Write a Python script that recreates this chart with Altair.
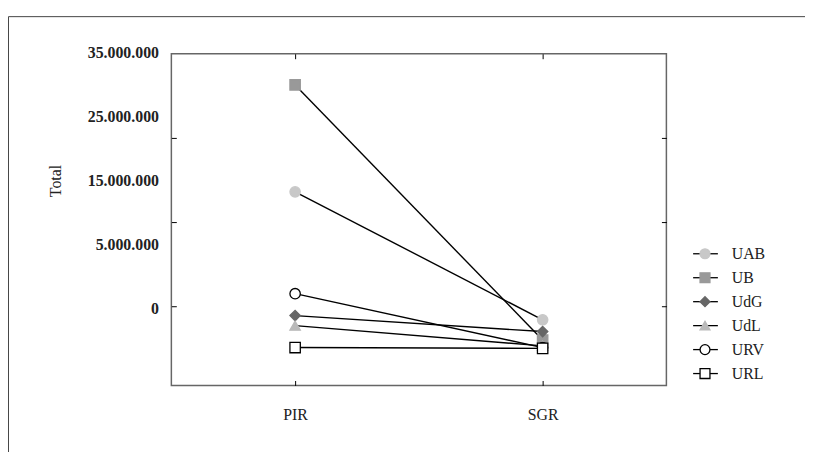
import altair as alt
import pandas as pd

# ---- data ----
unis = ["UAB", "UB", "UdG", "UdL", "URV", "URL"]
groups = ["PIR", "SGR"]
pir_values = [18.6e6, 31.3e6, 3.9e6, 2.7e6, 6.5e6, 0.1e6]
sgr_values = [3.4e6, 1.0e6, 2.0e6, 0.3e6, 0.1e6, 0.0]
y_tick_labels = ["35.000.000", "25.000.000", "15.000.000", "5.000.000", "0"]
y_tick_values = [5e6, 15e6, 25e6]
y_domain = [-4.4e6, 35e6]

# ---- styles ----
shapes = ["circle", "square", "diamond", "triangle-up", "circle", "square"]
fills = ["#c8c8c8", "#999999", "#666666", "#b9b9b9", "#ffffff", "#ffffff"]
strokes = ["#c8c8c8", "#999999", "#666666", "#b9b9b9", "#000000", "#000000"]
FONT = "Liberation Serif"

rows = []
for g, vals in zip(groups, [pir_values, sgr_values]):
    for u, v in zip(unis, vals):
        rows.append({"grupo": g, "uni": u, "valor": v})
df = pd.DataFrame(rows)
leg_df = pd.DataFrame({"uni": unis})
lab_df = pd.DataFrame({"lab": y_tick_labels})

xscale = alt.Scale(domain=groups, type="point", padding=0.5)
yscale = alt.Scale(domain=y_domain, nice=False, zero=False)
shape_scale = alt.Scale(domain=unis, range=shapes)
fill_scale = alt.Scale(domain=unis, range=fills)
stroke_scale = alt.Scale(domain=unis, range=strokes)

base = alt.Chart(df)

lines = base.mark_line(color="black", strokeWidth=1.4).encode(
    x=alt.X("grupo:N", scale=xscale, sort=groups,
            axis=alt.Axis(orient="bottom", title=None, offset=-5, tickSize=5,
                          domain=False, labelAngle=0, labelPadding=21,
                          labelFont=FONT, labelFontSize=16, labelColor="#222",
                          tickColor="black")),
    y=alt.Y("valor:Q", scale=yscale,
            axis=alt.Axis(orient="left", title=None, values=y_tick_values,
                          labels=False, offset=-5, tickSize=5, domain=False,
                          tickColor="black")),
    detail="uni:N",
)

points = base.mark_point(filled=True, size=110, opacity=1, strokeWidth=1.3).encode(
    x=alt.X("grupo:N", scale=xscale, sort=groups, axis=None),
    y=alt.Y("valor:Q", scale=yscale, axis=None),
    shape=alt.Shape("uni:N", scale=shape_scale, legend=None),
    fill=alt.Fill("uni:N", scale=fill_scale, legend=None),
    stroke=alt.Stroke("uni:N", scale=stroke_scale, legend=None),
)

mirror = base.mark_point(opacity=0).encode(
    x=alt.X("grupo:N", scale=xscale, sort=groups,
            axis=alt.Axis(orient="top", title=None, labels=False, offset=-5,
                          tickSize=5, domain=False, tickColor="black")),
    y=alt.Y("valor:Q", scale=yscale,
            axis=alt.Axis(orient="right", title=None, values=y_tick_values,
                          labels=False, offset=-5, tickSize=5, domain=False,
                          tickColor="black")),
)

ylabels = alt.Chart(lab_df).mark_point(opacity=0).encode(
    y=alt.Y("lab:N", sort=None,
            scale=alt.Scale(domain=y_tick_labels, type="point", range=[-1, 257], padding=0),
            axis=alt.Axis(orient="left", title="Total", ticks=False, tickSize=0,
                          domain=False, labelPadding=13, labelFont=FONT,
                          labelFontSize=16, labelFontWeight="bold", labelColor="#222",
                          titleFont=FONT, titleFontSize=16, titleFontWeight="normal",
                          titleColor="#222", titlePadding=24)),
)

leg_y = alt.Y("uni:N", sort=None,
              scale=alt.Scale(domain=unis, type="point", range=[202, 323], padding=0),
              axis=None)

leg_rules = alt.Chart(leg_df).mark_rule(color="black", strokeWidth=1.3).encode(
    x=alt.value(527), x2=alt.value(552), y=leg_y)

leg_points = alt.Chart(leg_df).mark_point(filled=True, size=100, opacity=1, strokeWidth=1.3).encode(
    x=alt.value(539), y=leg_y,
    shape=alt.Shape("uni:N", scale=shape_scale, legend=None),
    fill=alt.Fill("uni:N", scale=fill_scale, legend=None),
    stroke=alt.Stroke("uni:N", scale=stroke_scale, legend=None),
)

leg_text = alt.Chart(leg_df).mark_text(align="left", baseline="middle", font=FONT,
                                       fontSize=16, color="#222").encode(
    x=alt.value(566), y=leg_y, text="uni:N")

border = alt.Chart(pd.DataFrame({"a": [0]})).mark_rect(
    filled=False, stroke="#444", strokeWidth=1).encode(
    x=alt.value(-164.5), x2=alt.value(760), y=alt.value(-37.5), y2=alt.value(520))

chart = alt.layer(
    border, lines, points, mirror, ylabels, leg_rules, leg_points, leg_text
).resolve_scale(
    y="independent"
).resolve_axis(
    x="independent", y="independent"
).properties(
    width=500, height=335,
    autosize=alt.AutoSizeParams(type="none"),
    padding={"left": 165, "top": 44, "right": 140, "bottom": 65},
).configure_view(
    stroke="#666", strokeWidth=1.5
).configure_axis(grid=False)

chart.save("out.html", embed_options={"renderer": "svg", "actions": False})
